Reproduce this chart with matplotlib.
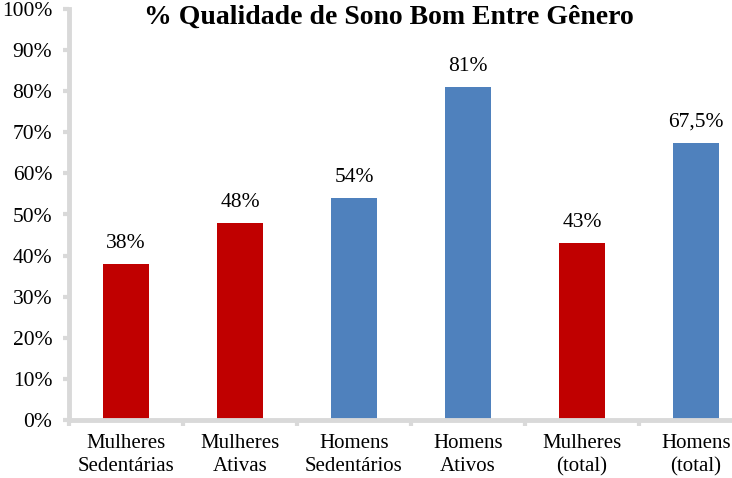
import matplotlib
matplotlib.use("Agg")
import matplotlib.pyplot as plt
from matplotlib.ticker import FuncFormatter, FixedLocator

plt.rcParams['font.family'] = ['Liberation Serif', 'DejaVu Serif']

categories = ["Mulheres\nSedentárias", "Mulheres\nAtivas", "Homens\nSedentários",
              "Homens\nAtivos", "Mulheres\n(total)", "Homens\n(total)"]
values = [38, 48, 54, 81, 43, 67.5]
value_labels = ["38%", "48%", "54%", "81%", "43%", "67,5%"]
colors = ["#C00000", "#C00000", "#4F81BD", "#4F81BD", "#C00000", "#4F81BD"]
title = "% Qualidade de Sono Bom Entre Gênero"

W, H = 732, 478
fig = plt.figure(figsize=(W / 100, H / 100), dpi=100)
left_px, bottom_px, top_px = 69, 420, 9
cat_w = 114
ax = fig.add_axes([left_px / W, (H - bottom_px) / H, 6 * cat_w / W, (bottom_px - top_px) / H])

x = list(range(len(categories)))
ax.bar(x, values, width=0.41, color=colors, zorder=2)
for xi, v, lab in zip(x, values, value_labels):
    ax.annotate(lab, (xi, v), xytext=(0, 8), textcoords="offset points",
                ha="center", va="bottom", fontsize=15.5)

ax.set_xlim(-0.5, 5.5)
ax.set_ylim(0, 100)
ax.set_yticks(range(0, 101, 10))
ax.yaxis.set_major_formatter(FuncFormatter(lambda v, p: f"{int(v)}%"))
ax.set_xticks(x)
ax.set_xticklabels(categories, fontsize=15, linespacing=1.3)
ax.xaxis.set_minor_locator(FixedLocator([i + 0.5 for i in range(-1, 6)]))
ax.tick_params(axis='x', which='major', length=0, pad=10)
ax.tick_params(axis='x', which='minor', length=4, width=3, color="#D9D9D9", direction='out')
ax.tick_params(axis='y', length=4, width=3, color="#D9D9D9", pad=8, labelsize=15.5)

for s in ("top", "right"):
    ax.spines[s].set_visible(False)
for s in ("left", "bottom"):
    ax.spines[s].set_color("#D9D9D9")
    ax.spines[s].set_linewidth(3.5)

fig.text(389 / W, 1 - 17 / H, title, ha="center", va="center", fontsize=20, fontweight="bold")

fig.savefig("out.png", dpi=100)
